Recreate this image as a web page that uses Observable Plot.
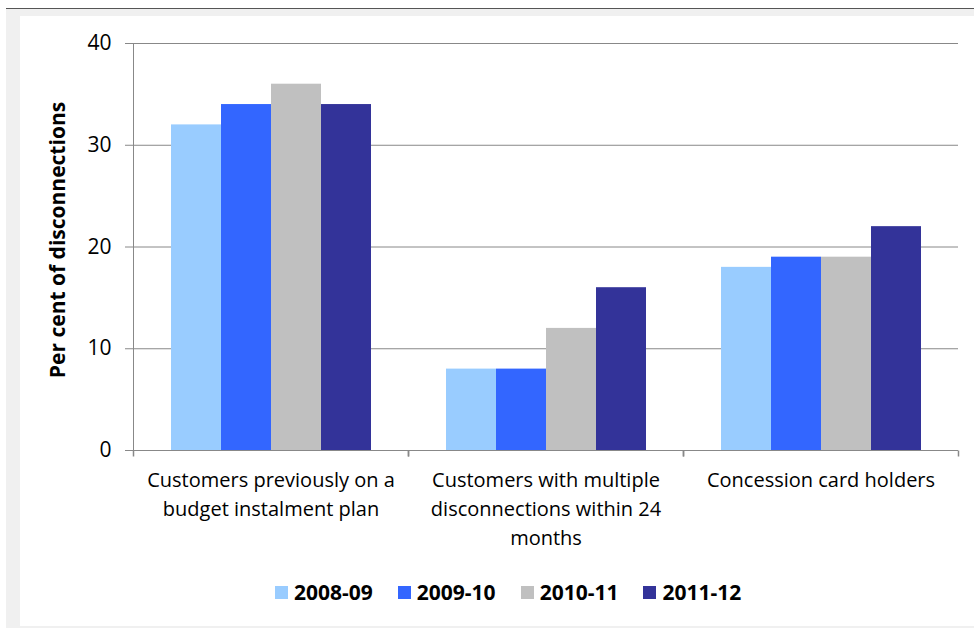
<!DOCTYPE html>
<html><head><meta charset="utf-8">
<script src="https://cdn.jsdelivr.net/npm/d3@7"></script>
<script src="https://cdn.jsdelivr.net/npm/@observablehq/plot@0.6"></script>
<style>
body{margin:0;width:974px;height:628px;position:relative;overflow:hidden;background:#fff;font-family:"Open Sans",sans-serif;}
#frame{position:absolute;left:6px;top:8px;right:0;bottom:0;border-top:1px solid #555;background:#f0f0f0;}
#inner{position:absolute;left:20px;top:16px;right:0;bottom:2px;background:#fff;}
#chart{position:absolute;left:0;top:0;}
#ylabel{position:absolute;left:57px;top:240px;transform:translate(-50%,-50%) rotate(-90deg);font-weight:bold;font-size:21px;white-space:nowrap;color:#000;}
#legend{position:absolute;top:578px;left:275px;display:flex;align-items:center;font-weight:bold;font-size:21px;color:#000;}
.item{display:flex;align-items:center;margin-right:25px;}
.sw{width:13px;height:13px;margin-right:6px;}
</style></head>
<body>
<div id="frame"></div>
<div id="inner"></div>
<div id="chart"></div>
<div id="ylabel">Per cent of disconnections</div>
<div id="legend"></div>
<script>
const categories = ["Customers previously on a budget instalment plan", "Customers with multiple disconnections within 24 months", "Concession card holders"];
const categoryLabels = ["Customers previously on a\nbudget instalment plan", "Customers with multiple\ndisconnections within 24\nmonths", "Concession card holders"];
const years = ["2008-09", "2009-10", "2010-11", "2011-12"];
const colors = ["#99CCFF", "#3366FF", "#C0C0C0", "#333399"];
const v2008_09 = [32, 8, 18];
const v2009_10 = [34, 8, 19];
const v2010_11 = [36, 12, 19];
const v2011_12 = [34, 16, 22];
const yTicks = [0, 10, 20, 30, 40];
const yLabel = "Per cent of disconnections";

const series = [v2008_09, v2009_10, v2010_11, v2011_12];
const rows = [];
categories.forEach((c, i) => years.forEach((y, j) => rows.push({category: c, year: y, value: series[j][i]})));

const vtick = {draw(ctx, size) { ctx.moveTo(0, 0); ctx.lineTo(0, 6); }};

const chart = Plot.plot({
  width: 974, height: 560,
  marginLeft: 133, marginRight: 16, marginTop: 43, marginBottom: 110,
  style: {background: "transparent", fontFamily: "'Open Sans', sans-serif", fontSize: "21px", color: "#000"},
  fx: {domain: categories, padding: 0, label: null},
  x: {domain: years, paddingInner: 0, paddingOuter: 0.75, axis: null},
  y: {domain: [0, 40], axis: null},
  color: {domain: years, range: colors},
  marks: [
    Plot.ruleY(yTicks.filter(d => d > 0), {stroke: "#888", strokeOpacity: 1}),
    Plot.barY(rows, {fx: "category", x: "year", y: "value", fill: "year", inset: 0}),
    Plot.ruleY([0], {stroke: "#888", strokeOpacity: 1}),
    Plot.frame({anchor: "left", stroke: "#888", strokeOpacity: 1, facetAnchor: "left"}),
    Plot.dot([0], {frameAnchor: "bottom-left", symbol: vtick, stroke: "#888", fill: "none", r: 3}),
    Plot.dot([0], {frameAnchor: "bottom-right", symbol: vtick, stroke: "#888", fill: "none", r: 3}),
    Plot.axisY({ticks: yTicks, tickSize: 8, tickPadding: 14, stroke: "#888", strokeOpacity: 1, label: null, fontSize: 21}),
    Plot.axisFx({anchor: "bottom", tickSize: 0, tickPadding: 16, label: null, fontSize: 20, lineHeight: 1.45,
      tickFormat: d => categoryLabels[categories.indexOf(d)]})
  ]
});
document.getElementById("chart").append(chart);
document.getElementById("ylabel").textContent = yLabel;

const legend = document.getElementById("legend");
years.forEach((y, i) => {
  const it = document.createElement("div"); it.className = "item";
  const sw = document.createElement("div"); sw.className = "sw"; sw.style.background = colors[i];
  const t = document.createElement("span"); t.textContent = y;
  it.append(sw, t); legend.append(it);
});
</script>
</body></html>
